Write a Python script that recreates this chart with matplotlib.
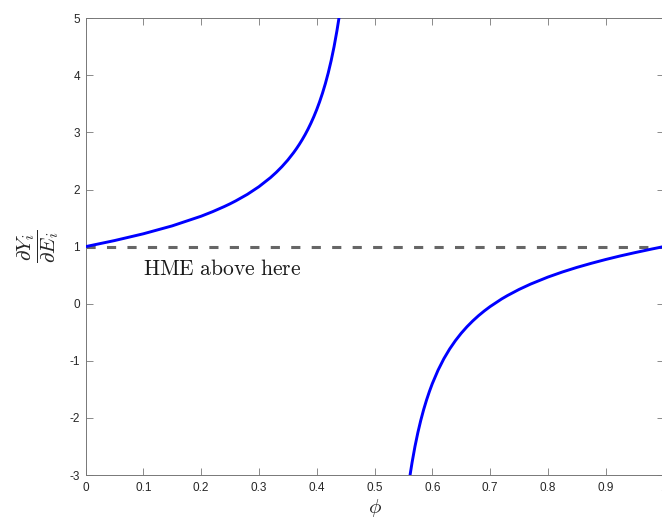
import matplotlib
matplotlib.use("Agg")
import matplotlib.pyplot as plt

plt.rcParams['mathtext.fontset'] = 'cm'
plt.rcParams['font.family'] = ['Liberation Sans', 'DejaVu Sans']

# left branch (below the pole at phi = 0.5)
phi_left = [0.0, 0.05, 0.10, 0.15, 0.20, 0.22, 0.24, 0.25, 0.26, 0.28, 0.30,
            0.32, 0.33, 0.34, 0.35, 0.36, 0.365, 0.37, 0.375, 0.38, 0.385,
            0.39, 0.395, 0.40, 0.405, 0.41, 0.415, 0.42, 0.425, 0.43, 0.435,
            0.438, 0.44]
dy_left = [1.0, 1.106, 1.225, 1.364, 1.533, 1.613, 1.702, 1.75, 1.802, 1.916,
           2.05, 2.209, 2.301, 2.403, 2.517, 2.646, 2.717, 2.793, 2.875, 2.963,
           3.059, 3.163, 3.276, 3.4, 3.537, 3.688, 3.856, 4.045, 4.258, 4.501,
           4.781, 4.970, 5.107]

# right branch (above the pole)
phi_right = [0.56, 0.562, 0.565, 0.57, 0.575, 0.58, 0.585, 0.59, 0.595, 0.60,
             0.61, 0.62, 0.63, 0.64, 0.65, 0.66, 0.67, 0.68, 0.69, 0.70, 0.72,
             0.73, 0.75, 0.77, 0.80, 0.825, 0.85, 0.875, 0.90, 0.925, 0.95,
             0.98, 1.0]
dy_right = [-3.107, -2.970, -2.781, -2.501, -2.258, -2.045, -1.856, -1.688,
            -1.537, -1.4, -1.163, -0.963, -0.793, -0.646, -0.517, -0.403,
            -0.301, -0.209, -0.126, -0.05, 0.084, 0.143, 0.25, 0.344, 0.467,
            0.556, 0.636, 0.708, 0.775, 0.837, 0.894, 0.959, 1.0]

hme_x = [0.0, 1.0]
hme_y = [1.0, 1.0]

xticks = [0, 0.1, 0.2, 0.3, 0.4, 0.5, 0.6, 0.7, 0.8, 0.9, 1]
yticks = [-3, -2, -1, 0, 1, 2, 3, 4, 5]

fig = plt.figure(figsize=(6.62, 5.21), dpi=100)
ax = fig.add_axes([85.5 / 662, 1 - 475 / 521, 578 / 662, (475 - 18.3) / 521])

ax.plot(hme_x, hme_y, color='#666666', lw=2.2, dashes=(3.0, 3.7), zorder=2)
ax.plot(phi_left, dy_left, color='#0000ff', lw=2.1, zorder=3)
ax.plot(phi_right, dy_right, color='#0000ff', lw=2.1, zorder=3)

ax.text(0.1, 0.5, r'$\mathrm{HME\ above\ here}$', fontsize=15.5,
        ha='left', va='baseline', color='#1a1a1a')

ax.set_xlim(0, 1)
ax.set_ylim(-3, 5)
ax.set_xticks(xticks)
ax.set_yticks(yticks)
ax.set_xticklabels([f'{t:g}' for t in xticks])
ax.set_yticklabels([f'{t:g}' for t in yticks])

ax.tick_params(direction='in', length=5, width=0.6, color='#777777',
               labelsize=8.5, labelcolor='#262626', top=True, right=True)
ax.tick_params(axis='x', pad=5)
ax.tick_params(axis='y', pad=4)
for s in ax.spines.values():
    s.set_color('#777777')
    s.set_linewidth(0.7)

ax.set_xlabel(r'$\phi$', fontsize=15, labelpad=2, color='#262626')
ax.set_ylabel(r'$\dfrac{\partial Y_i}{\partial E_i}$', fontsize=15,
              labelpad=6, color='#262626')

fig.savefig('out.png', dpi=100)
